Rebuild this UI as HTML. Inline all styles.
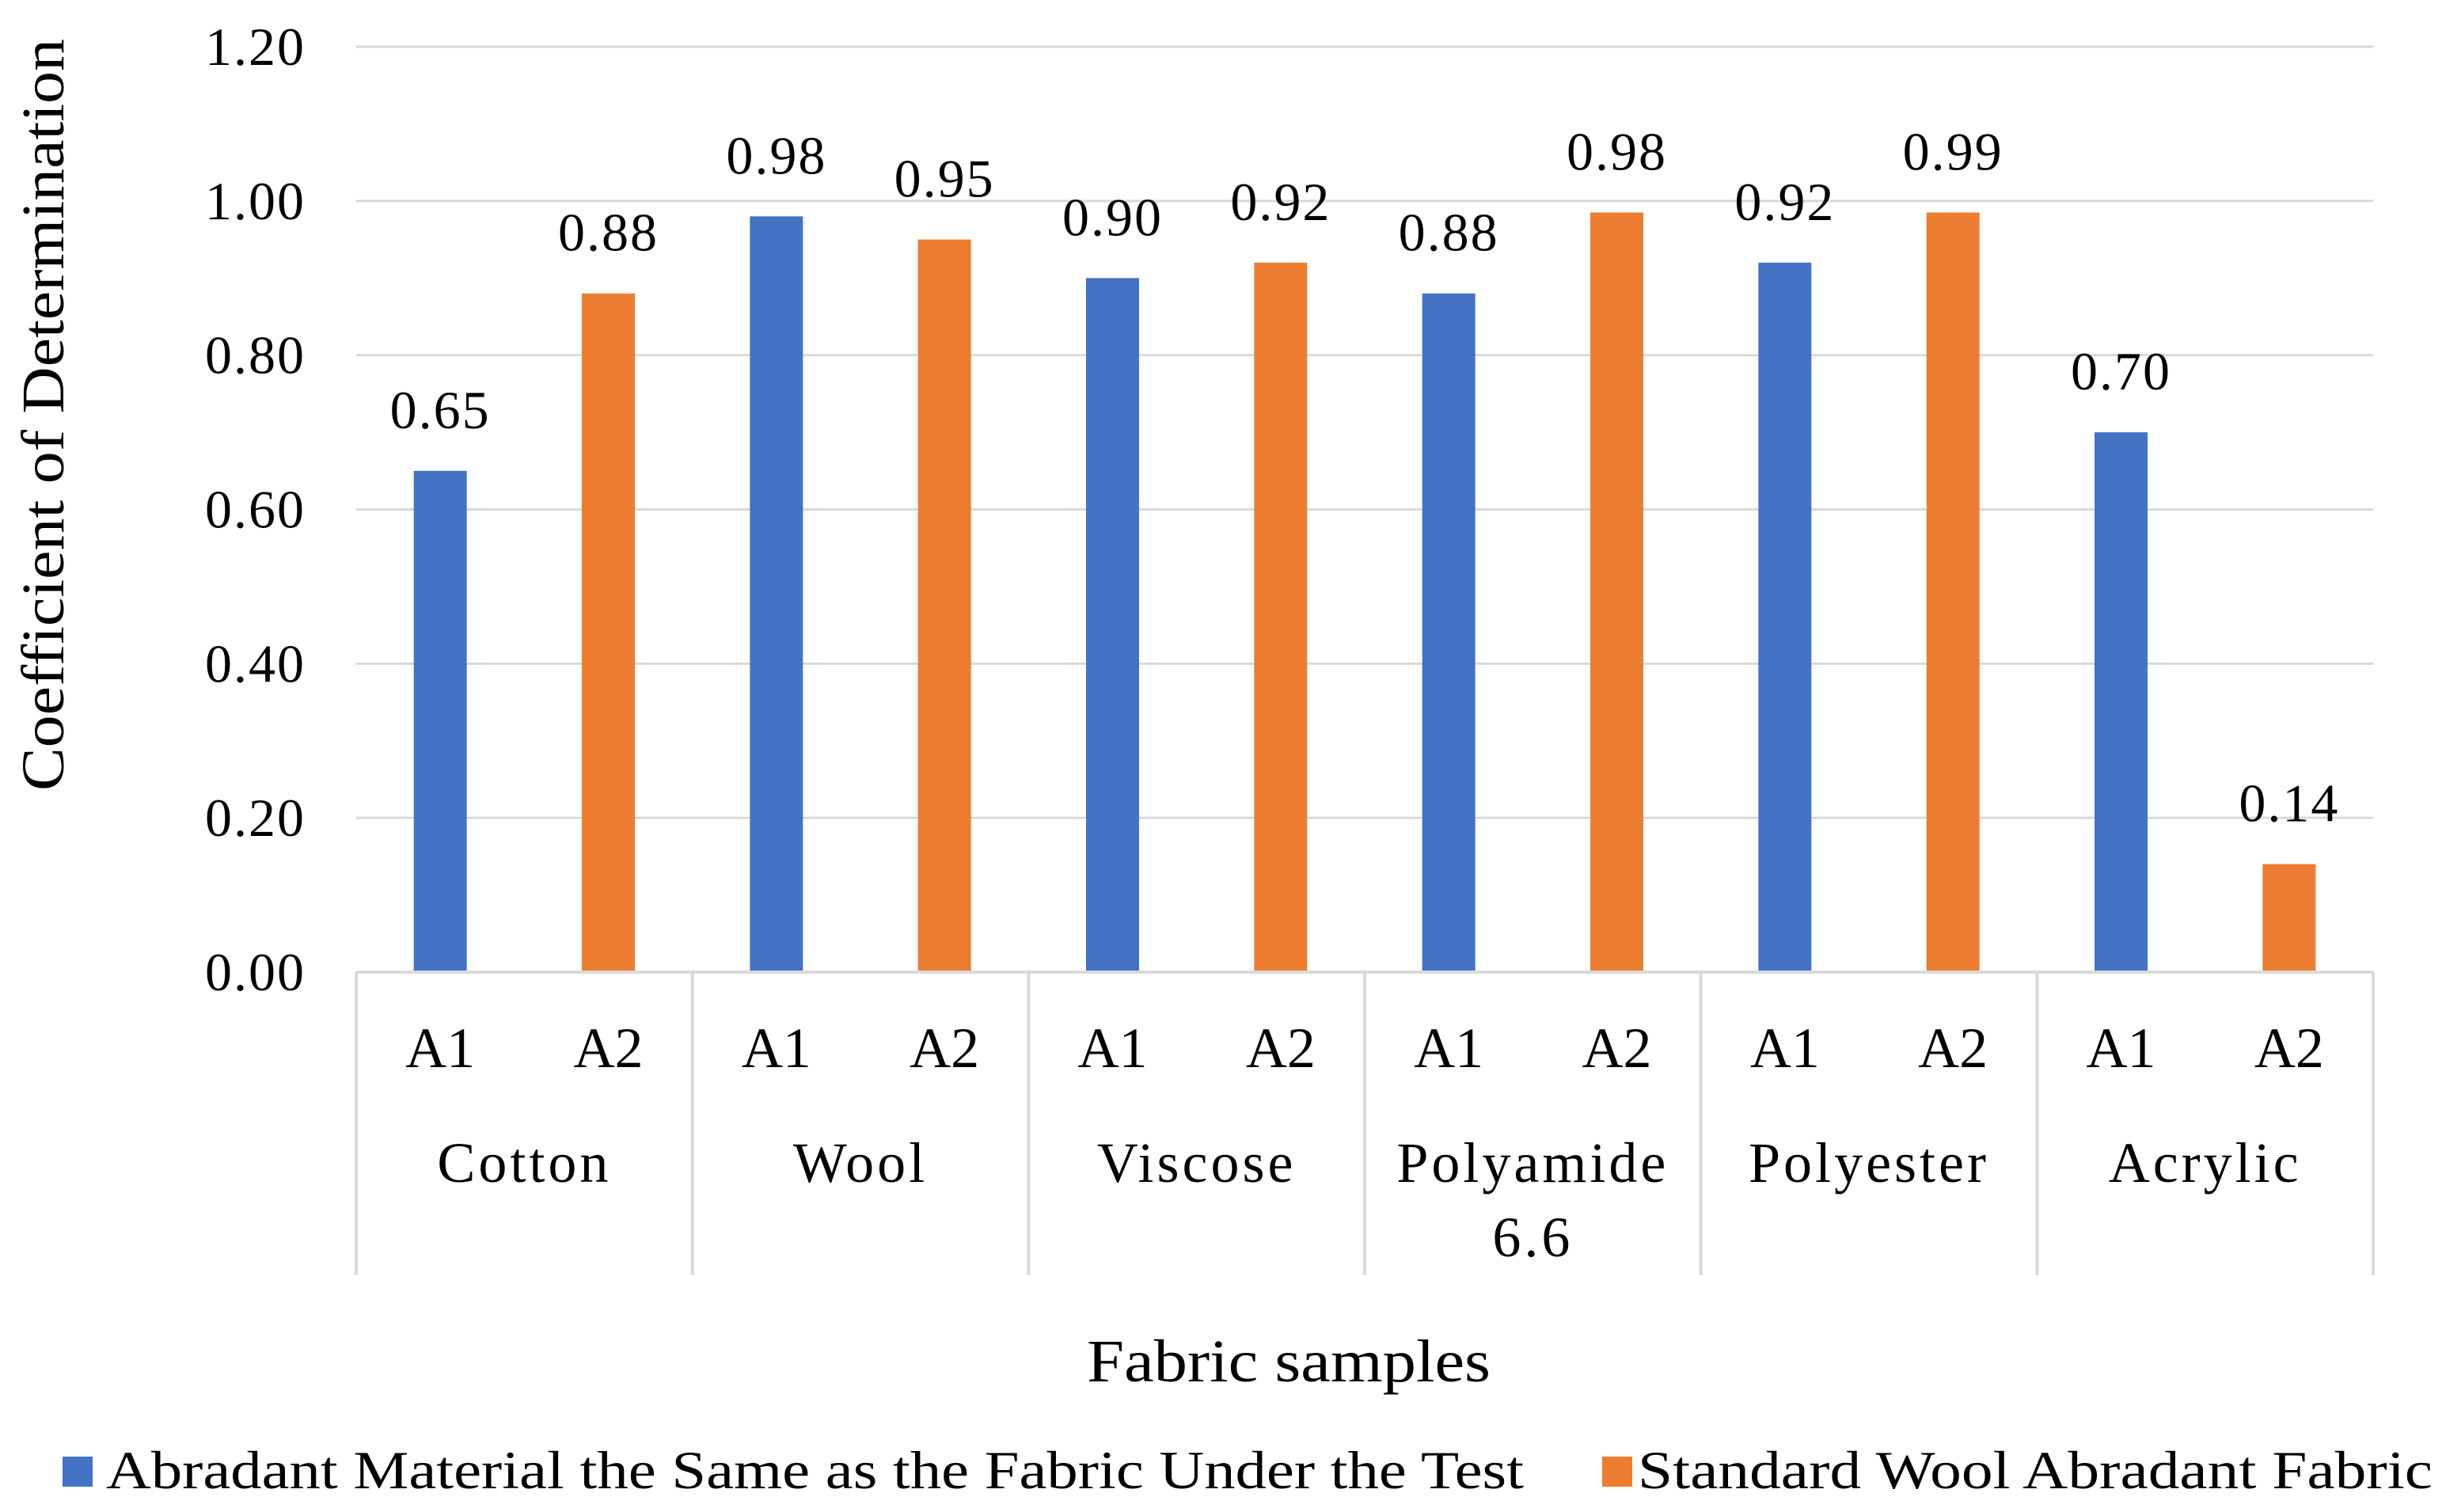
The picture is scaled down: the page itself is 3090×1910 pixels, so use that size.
<!DOCTYPE html>
<html><head><meta charset="utf-8"><style>
html,body{margin:0;padding:0;background:#fff;}
svg{display:block;font-family:"Liberation Serif",serif;}
</style></head><body>
<svg id="chart" width="3090" height="1910" viewBox="0 0 3090 1910" xmlns="http://www.w3.org/2000/svg">
<g id="grid"></g>
<g id="bars"></g>
<g id="labels"></g>
<g id="yticks"></g>
<g id="xaxis"></g>
<text x="0" y="0" transform="translate(80,524) rotate(-90)" text-anchor="middle" font-size="76" textLength="950" lengthAdjust="spacingAndGlyphs" fill="#000">Coefficient of Determination</text>
<text x="1628" y="1745" text-anchor="middle" font-size="76" textLength="510" lengthAdjust="spacingAndGlyphs" fill="#000">Fabric samples</text>
<g>
<g>
<rect x="79" y="1840" width="38" height="38" fill="#4472c4"/>
<text x="134" y="1880" font-size="68" textLength="1791" lengthAdjust="spacingAndGlyphs" fill="#000">Abradant Material the Same as the Fabric Under the Test</text>
</g>
<g>
<rect x="2024" y="1840" width="38" height="38" fill="#ed7d31"/>
<text x="2069" y="1880" font-size="68" textLength="1004" lengthAdjust="spacingAndGlyphs" fill="#000">Standard Wool Abradant Fabric</text>
</g>
</g>
</svg>
<script>
const groups = ["Cotton","Wool","Viscose","Polyamide|6.6","Polyester","Acrylic"];
const subLabels = ["A1","A2"];
const seriesA1 = [0.65,0.98,0.90,0.88,0.92,0.70];
const seriesA2 = [0.88,0.95,0.92,0.985,0.985,0.14];
const labelsA1 = ["0.65","0.98","0.90","0.88","0.92","0.70"];
const labelsA2 = ["0.88","0.95","0.92","0.98","0.99","0.14"];
const yTicks = [0,0.2,0.4,0.6,0.8,1.0,1.2];
const yTickLabels = ["0.00","0.20","0.40","0.60","0.80","1.00","1.20"];

const NS="http://www.w3.org/2000/svg";
const X0=450,X1=2998,Y0=1228,Y1=59,YMAX=1.2;
const y=v=>Y0-(v/YMAX)*(Y0-Y1);
const gw=(X1-X0)/groups.length;
const slot=gw/2;
const bw=67;
const xc=(g,s)=>X0+g*gw+slot*(s+0.5);
function mk(tag,attrs,parent){const e=document.createElementNS(NS,tag);for(const k in attrs)e.setAttribute(k,attrs[k]);parent.appendChild(e);return e;}
const grid=document.getElementById('grid'),bars=document.getElementById('bars'),labels=document.getElementById('labels'),yt=document.getElementById('yticks'),xa=document.getElementById('xaxis');
yTicks.forEach((t,i)=>{
  if(i>0){const l=mk('line',{x1:X0,x2:X1,y1:y(t),y2:y(t),stroke:'#d9d9d9','stroke-width':3},grid);
  
  }
  const tx=mk('text',{x:386,y:y(t)+23,'text-anchor':'end','font-size':68,'letter-spacing':2,fill:'#000'},yt);
  tx.textContent=yTickLabels[i];
  
  
});
const base=mk('line',{x1:X0,x2:X1,y1:Y0,y2:Y0,stroke:'#d9d9d9','stroke-width':4},xa);


for(let g=0;g<=groups.length;g++){
  const d=mk('line',{x1:X0+g*gw,x2:X0+g*gw,y1:Y0,y2:1611,stroke:'#d9d9d9','stroke-width':4},xa);
  
  
}
const series=[[seriesA1,labelsA1,'#4472c4'],[seriesA2,labelsA2,'#ed7d31']];
groups.forEach((gname,g)=>{
  series.forEach(([vals,labs,col],s)=>{
    const v=vals[g];
    const r=mk('rect',{x:xc(g,s)-bw/2,y:y(v),width:bw,height:Y0-y(v),fill:col},bars);
    
    
    const t=mk('text',{x:xc(g,s),y:y(v)-54,'text-anchor':'middle','font-size':68,'letter-spacing':2,fill:'#000'},labels);
    t.textContent=labs[g];
    
    
    const sl=mk('text',{x:xc(g,s),y:1348,'text-anchor':'middle','font-size':72,fill:'#000'},xa);
    sl.textContent=subLabels[s];
    
    
  });
  gname.split('|').forEach((line,li)=>{
    const gt=mk('text',{x:X0+g*gw+gw/2,y:1493+li*94,'text-anchor':'middle','font-size':72,'letter-spacing':4,fill:'#000'},xa);
    gt.textContent=line;
    
    
  });
});
</script>
</body></html>
